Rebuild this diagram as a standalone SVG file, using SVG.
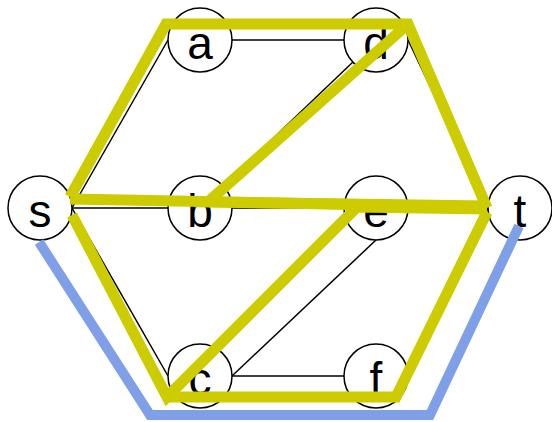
<svg xmlns="http://www.w3.org/2000/svg" width="552" height="422" viewBox="0 0 552 422">
<style>
.e{stroke:#000;stroke-width:1.5;fill:none}
.n circle{fill:#fff;stroke:#000;stroke-width:1.5}
.n text{font-family:"Liberation Sans",Arial,sans-serif;font-size:46px;text-anchor:middle;fill:#000}
.y{stroke:#cccc00;stroke-width:11;fill:none;stroke-linejoin:miter}
.bl{stroke:#7f9fe8;stroke-width:10;fill:none;stroke-linejoin:miter}
</style>
<rect width="552" height="422" fill="#fff"/>
<g id="edges">
<line class="e" x1="72" y1="208" x2="168" y2="40"/>
<line class="e" x1="72" y1="208" x2="168" y2="208"/>
<line class="e" x1="72" y1="208" x2="168" y2="376"/>
<line class="e" x1="232" y1="40" x2="344" y2="40"/>
<line class="e" x1="376" y1="40" x2="200" y2="208"/>
<line class="e" x1="232" y1="208" x2="344" y2="208"/>
<line class="e" x1="408" y1="208" x2="488" y2="208"/>
<line class="e" x1="408" y1="40" x2="488" y2="208"/>
<line class="e" x1="232" y1="376" x2="376" y2="240"/>
<line class="e" x1="232" y1="376" x2="344" y2="376"/>
<line class="e" x1="408" y1="376" x2="488" y2="208"/>
</g>
<g id="s" class="n"><circle cx="40" cy="208" r="32"/><text x="40" y="227">s</text></g>
<g id="a" class="n"><circle cx="200" cy="40" r="32"/><text x="200" y="59">a</text></g>
<g id="b" class="n"><circle cx="200" cy="208" r="32"/><text x="200" y="227">b</text></g>
<g id="c" class="n"><circle cx="200" cy="376" r="32"/><text x="200" y="395">c</text></g>
<g id="d" class="n"><circle cx="376" cy="40" r="32"/><text x="376" y="59">d</text></g>
<g id="e" class="n"><circle cx="376" cy="208" r="32"/><text x="376" y="227">e</text></g>
<g id="f" class="n"><circle cx="376" cy="376" r="32"/><text x="376" y="395">f</text></g>
<g id="t" class="n"><circle cx="520" cy="208" r="32"/><text x="520" y="227">t</text></g>
<g id="flows">
<polyline class="y" points="70,197 166,24 408,24 487,208"/>
<polyline class="y" points="408,24 208,202 487,206"/>
<polyline class="y" points="70,199 487,207"/>
<polyline class="y" points="72,215 167,397 357,207 487,209"/>
<polyline class="y" points="167,397 396,397 487,212"/>
<polyline class="bl" points="39,242 150,415 430,415 519,226"/>
</g>
</svg>
